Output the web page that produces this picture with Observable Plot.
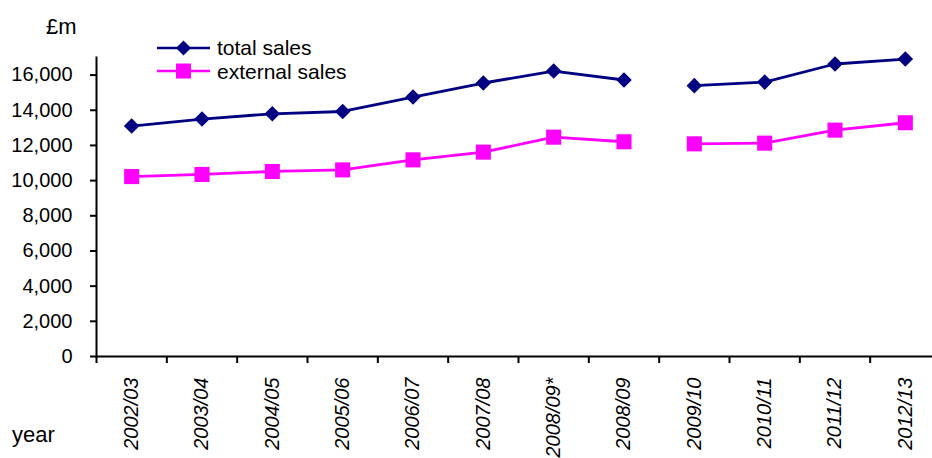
<!DOCTYPE html>
<html>
<head>
<meta charset="utf-8">
<script src="https://cdn.jsdelivr.net/npm/d3@7"></script>
<script src="https://cdn.jsdelivr.net/npm/@observablehq/plot@0.6"></script>
<style>
  body { margin: 0; background: #fff; font-family: "Liberation Sans", Arial, sans-serif; }
  #wrap { position: relative; width: 932px; height: 458px; overflow: hidden; }
  .note { position: absolute; color: #000; line-height: 1; white-space: nowrap; }
  #legend { position: absolute; left: 157px; top: 36px; font-size: 21px; line-height: 1; }
  #legend .row { display: flex; align-items: center; height: 23.4px; }
  #legend svg { display: block; margin-right: 6px; }
</style>
</head>
<body>
<div id="wrap">
  <div class="note" style="left:46px;top:16px;font-size:22px;">£m</div>
  <div class="note" style="left:12px;top:424px;font-size:22px;">year</div>
  <div id="legend">
    <div class="row">
      <svg width="54" height="20"><line x1="0" x2="53" y1="10" y2="10" stroke="#000080" stroke-width="2.5"/><path d="M26.5,2.5L34,10L26.5,17.5L19,10Z" fill="#000080"/></svg>
      <span>total sales</span>
    </div>
    <div class="row">
      <svg width="54" height="20"><line x1="0" x2="53" y1="10" y2="10" stroke="#ff00ff" stroke-width="2.5"/><rect x="19" y="2.5" width="15" height="15" fill="#ff00ff"/></svg>
      <span>external sales</span>
    </div>
  </div>
</div>
<script>
// Financial years shown along the x axis
const years = ["2002/03", "2003/04", "2004/05", "2005/06", "2006/07", "2007/08",
               "2008/09*", "2008/09", "2009/10", "2010/11", "2011/12", "2012/13"];
// Sales, £m
const totalSales    = [13100, 13500, 13800, 13930, 14750, 15550, 16230, 15720, 15400, 15600, 16630, 16910];
const externalSales = [10230, 10350, 10520, 10610, 11180, 11620, 12470, 12210, 12090, 12130, 12870, 13290];
// Series are broken between the two reporting bases
const segment = ["a", "a", "a", "a", "a", "a", "a", "a", "b", "b", "b", "b"];
const yTicks = [0, 2000, 4000, 6000, 8000, 10000, 12000, 14000, 16000];

const rows = years.map((year, i) => ({
  i, year, total: totalSales[i], external: externalSales[i], segment: segment[i]
}));
// category boundaries for the x tick marks
const boundaries = d3.range(years.length + 1).map(k => k - 0.5);
const thousands = d3.format(",");

const chart = Plot.plot({
  width: 932,
  height: 458,
  marginLeft: 96,
  marginRight: -8,
  marginTop: 57,
  marginBottom: 102,
  style: { fontFamily: "'Liberation Sans', Arial, sans-serif", fontSize: "20px", color: "#000", background: "#fff" },
  x: { type: "linear", domain: [-0.5, years.length - 0.5] },
  y: { domain: [0, 17000] },
  marks: [
    Plot.axisY({ ticks: yTicks, tickFormat: thousands, tickSize: 6, tickPadding: 18, strokeWidth: 2,
                 fontSize: 20, label: null }),
    Plot.axisX({ ticks: boundaries, tickFormat: () => "", tickSize: 7, strokeWidth: 2, label: null }),
    Plot.axisX({ ticks: d3.range(years.length), tickFormat: i => years[i], tickSize: 0, tickPadding: 21,
                 tickRotate: -90, fontStyle: "italic", fontSize: 20, label: null }),
    Plot.frame({ anchor: "left", strokeWidth: 2 }),
    Plot.ruleY([0], { strokeWidth: 2 }),
    Plot.line(rows, { x: "i", y: "total", z: "segment", stroke: "#000080", strokeWidth: 2.8 }),
    Plot.dot(rows, { x: "i", y: "total", symbol: "diamond2", r: 7, fill: "#000080", stroke: null }),
    Plot.line(rows, { x: "i", y: "external", z: "segment", stroke: "#ff00ff", strokeWidth: 2.8 }),
    Plot.dot(rows, { x: "i", y: "external", symbol: "square", r: 8.5, fill: "#ff00ff", stroke: null })
  ]
});
chart.style.position = "absolute";
chart.style.left = "0";
chart.style.top = "0";
const wrap = document.getElementById("wrap");
wrap.insertBefore(chart, wrap.firstChild);
</script>
</body>
</html>
